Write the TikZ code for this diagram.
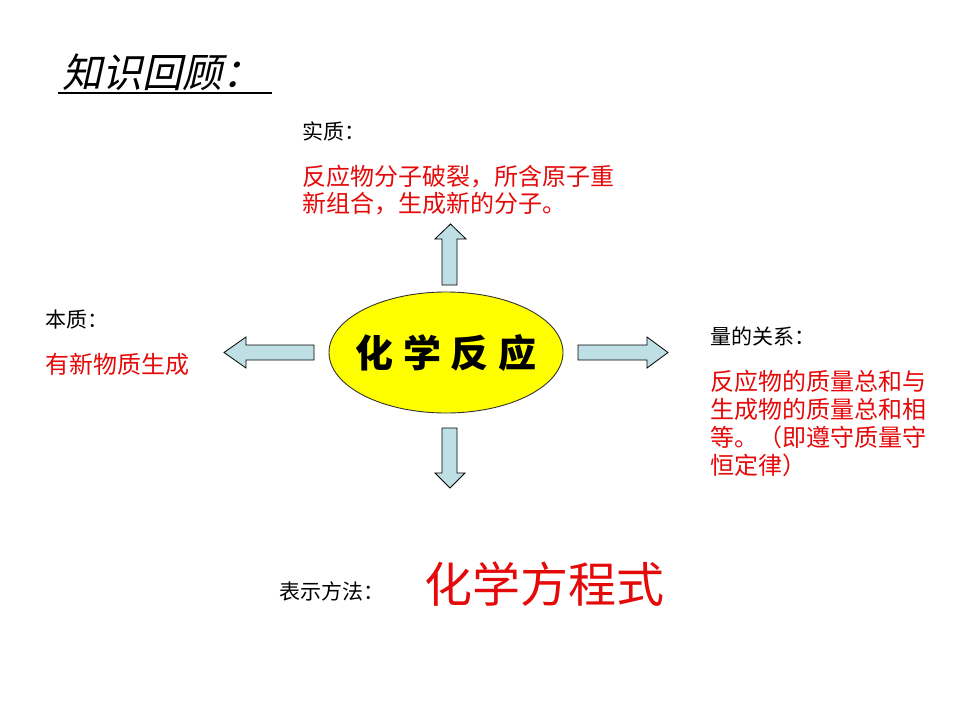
\documentclass[tikz,border=0pt]{standalone}
\usepackage{fontspec}
\usetikzlibrary{shapes.geometric}
\newfontfamily\cjk{Noto Sans CJK SC}
\newfontfamily\cjkit[FakeSlant=0.22]{Noto Sans CJK SC}
\definecolor{txtred}{RGB}{228,10,10}
\definecolor{arrowfill}{RGB}{190,224,228}
\definecolor{ellfill}{RGB}{255,255,0}
\tikzset{
  blabel/.style={anchor=north west, inner sep=0pt, font=\cjk\fontsize{21}{25}\selectfont, text=black},
  rlabel/.style={anchor=north west, inner sep=0pt, align=left, font=\cjk\fontsize{24}{28}\selectfont, text=txtred},
  barrow/.style={draw=black, line width=0.8pt, fill=arrowfill, line join=miter},
}
\begin{document}
\begin{tikzpicture}[x=1pt,y=-1pt]
\useasboundingbox (0,0) rectangle (960,720);
% title
\node[anchor=north west, inner sep=0pt, font=\cjkit\fontsize{40}{42}\selectfont] (title) at (62,54) {知识回顾：};
\draw[line width=2pt] (58,93) -- (272,93);
% central ellipse
\node[ellipse, draw=black!80, line width=0.9pt, fill=ellfill, minimum width=234pt, minimum height=121pt, inner sep=0pt,
      font=\cjk\bfseries\fontsize{38}{40}\selectfont] (center) at (446,352.5) {\makebox[0pt]{化\hspace{10pt}学\hspace{10pt}反\hspace{10pt}应}};
% block arrows
\draw[barrow] (442,285) -- (442,239) -- (435,239) -- (450.5,224) -- (466,239) -- (457,239) -- (457,285) -- cycle;
\draw[barrow] (442,428) -- (457,428) -- (457,473) -- (465,473) -- (450,488) -- (435,473) -- (442,473) -- cycle;
\draw[barrow] (314,345) -- (314,360) -- (246,360) -- (246,368) -- (224,352.5) -- (246,337) -- (246,345) -- cycle;
\draw[barrow] (578,345) -- (647,345) -- (647,337) -- (668,352.5) -- (647,368) -- (647,360) -- (578,360) -- cycle;
% top
\node[blabel] (shizhi) at (302,122) {实质：};
\node[rlabel, font=\cjk\fontsize{24}{26.5}\selectfont] (shizhitext) at (302,165) {反应物分子破裂，所含原子重\\新组合，生成新的分子。};
% left
\node[blabel] (benzhi) at (45,310) {本质：};
\node[rlabel] (benzhitext) at (45,353) {有新物质生成};
% right
\node[blabel] (liang) at (710,327) {量的关系：};
\node[rlabel] (liangtext) at (710,370) {反应物的质量总和与\\生成物的质量总和相\\等。（即遵守质量守\\恒定律）};
% bottom
\node[blabel] (biaoshi) at (279,582) {表示方法：};
\node[anchor=north west, inner sep=0pt, font=\cjk\fontsize{48}{50}\selectfont, text=txtred] (fangcheng) at (424,562) {化学方程式};
\end{tikzpicture}
\end{document}
